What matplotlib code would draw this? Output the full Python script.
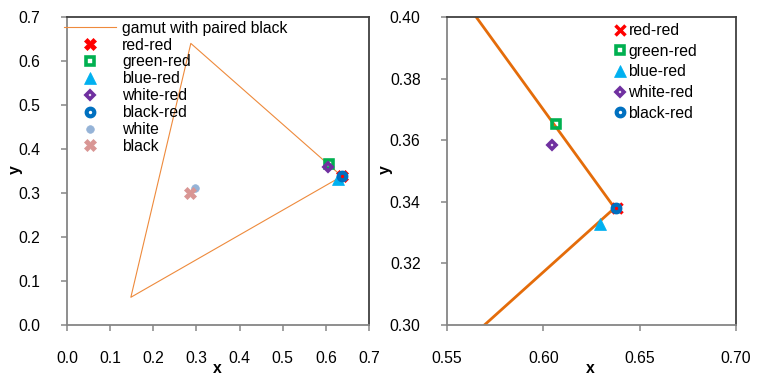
import matplotlib
matplotlib.use("Agg")
import matplotlib.pyplot as plt

plt.rcParams['font.family'] = ['Liberation Sans', 'DejaVu Sans']

# Gamut triangle (red -> green -> blue -> red)
gamut_x = [0.637, 0.287, 0.148, 0.637]
gamut_y = [0.338, 0.640, 0.063, 0.338]

# Measured chromaticities
names = ["red-red", "green-red", "blue-red", "white-red", "black-red", "white", "black"]
pts_x = [0.638, 0.6065, 0.6292, 0.6047, 0.6375, 0.297, 0.285]
pts_y = [0.338, 0.3653, 0.3328, 0.3583, 0.338, 0.311, 0.299]

left_xticks = [0.0, 0.1, 0.2, 0.3, 0.4, 0.5, 0.6, 0.7]
left_yticks = [0.0, 0.1, 0.2, 0.3, 0.4, 0.5, 0.6, 0.7]
right_xticks = [0.55, 0.60, 0.65, 0.70]
right_yticks = [0.30, 0.32, 0.34, 0.36, 0.38, 0.40]

orange = '#E46C0A'
styles = [
    dict(marker='X', color='#FF0000', ms=8, mfc='#FF0000', mec='#FF0000', mew=0.5),
    dict(marker='s', color='#00B050', ms=5.5, mfc='none', mec='#00B050', mew=2.6),
    dict(marker='^', color='#00B0F0', ms=8.5, mfc='#00B0F0', mec='#00B0F0', mew=0.5),
    dict(marker='D', color='#7030A0', ms=4.5, mfc='none', mec='#7030A0', mew=2.6),
    dict(marker='o', color='#0070C0', ms=5.5, mfc='none', mec='#0070C0', mew=3.0),
    dict(marker='o', color='#95B3D7', ms=5.5, mfc='#95B3D7', mec='#95B3D7', mew=0.5),
    dict(marker='X', color='#D99694', ms=8.5, mfc='#D99694', mec='#D99694', mew=0.5),
]
right_styles = [dict(s) for s in styles[:5]]
right_styles[0] = dict(marker='x', color='#FF0000', ms=7, mfc='#FF0000', mec='#FF0000', mew=2.5)

fig = plt.figure(figsize=(7.59, 3.76), dpi=100)
axL = fig.add_axes([67/759, 51/376, 302/759, 308/376])
axR = fig.add_axes([447/759, 51/376, 289/759, 308/376])

FS = 11.3

def style_axes(ax):
    for s in ['left', 'bottom']:
        ax.spines[s].set_color('#868686')
        ax.spines[s].set_linewidth(1.3)
    for s in ['top', 'right']:
        ax.spines[s].set_color('#404040')
        ax.spines[s].set_linewidth(1.3)
    ax.tick_params(direction='out', length=4, width=1.1, color='#868686',
                   labelsize=FS, pad=15, labelcolor='#000000')

# Left panel
axL.plot(gamut_x, gamut_y, color='#EE8A3C', lw=0.8, label='gamut with paired black', zorder=2)
for nx, ny, nm, st in zip(pts_x, pts_y, names, styles):
    axL.plot([nx], [ny], linestyle='none', label=nm, zorder=3, **st)
axL.set_xlim(0, 0.7)
axL.set_ylim(0, 0.7)
axL.set_xticks(left_xticks)
axL.set_yticks(left_yticks)
axL.set_xticklabels([f"{v:.1f}" for v in left_xticks])
axL.set_yticklabels([f"{v:.1f}" for v in left_yticks])
style_axes(axL)
axL.set_xlabel('x', fontsize=FS, fontweight='bold')
axL.set_ylabel('y', fontsize=FS, fontweight='bold')
axL.xaxis.set_label_coords(0.497, -0.118)
axL.yaxis.set_label_coords(-0.146, 0.503)
axL.legend(loc='upper left', bbox_to_anchor=(-0.01, 0.988), frameon=False,
           fontsize=FS, handlelength=3.3, handletextpad=0.4, labelspacing=0.12,
           borderpad=0, borderaxespad=0)

# Right panel
axR.plot(gamut_x, gamut_y, color=orange, lw=2.0, zorder=2)
for nx, ny, nm, st in zip(pts_x[:5], pts_y[:5], names[:5], right_styles):
    axR.plot([nx], [ny], linestyle='none', label=nm, zorder=3, **st)
axR.set_xlim(0.55, 0.70)
axR.set_ylim(0.30, 0.40)
axR.set_xticks(right_xticks)
axR.set_yticks(right_yticks)
axR.set_xticklabels([f"{v:.2f}" for v in right_xticks])
axR.set_yticklabels([f"{v:.2f}" for v in right_yticks])
style_axes(axR)
axR.set_xlabel('x', fontsize=FS, fontweight='bold')
axR.set_ylabel('y', fontsize=FS, fontweight='bold')
axR.xaxis.set_label_coords(0.497, -0.118)
axR.yaxis.set_label_coords(-0.187, 0.503)
axR.legend(loc='upper left', bbox_to_anchor=(0.571, 0.98), frameon=False,
           fontsize=FS, handlelength=1.0, handletextpad=0.05, labelspacing=0.36,
           borderpad=0, borderaxespad=0)

fig.savefig('out.png', dpi=100)
